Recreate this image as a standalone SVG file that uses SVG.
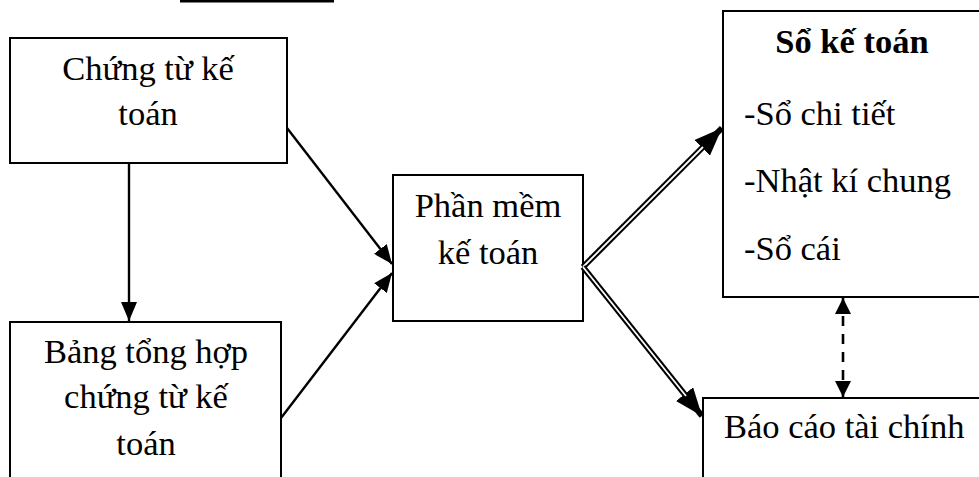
<svg xmlns="http://www.w3.org/2000/svg" width="979" height="477" viewBox="0 0 979 477">
<style>
.box{fill:#fff;stroke:#000;stroke-width:2}
.t{font-family:"Liberation Serif","Times New Roman",serif;font-size:34.5px;fill:#000}
.c{text-anchor:middle}
.b{font-weight:bold}
.ln{stroke:#000;stroke-width:2.4;fill:none}
.dbl{stroke:#000;stroke-width:6;fill:none}
.gap{stroke:#fff;stroke-width:1.8;fill:none}
.dash{stroke:#000;stroke-width:2.6;stroke-dasharray:10 8;fill:none}
</style>
<defs>
<marker id="a" markerUnits="userSpaceOnUse" markerWidth="19" markerHeight="16" refX="19" refY="8" orient="auto"><path d="M0,0 L19,8 L0,16 z" fill="#000"/></marker>
<marker id="big" markerUnits="userSpaceOnUse" markerWidth="28" markerHeight="22" refX="28" refY="11" orient="auto"><path d="M0,0 L28,11 L0,22 z" fill="#000"/></marker>
<marker id="d" markerUnits="userSpaceOnUse" markerWidth="16" markerHeight="16" refX="16" refY="8" orient="auto-start-reverse"><path d="M0,0 L16,8 L0,16 z" fill="#000"/></marker>
</defs>
<rect x="180" y="0" width="154" height="2.5" fill="#000"/>
<g id="n1"><rect class="box" x="10" y="38" width="277" height="125"/>
<text class="t c" x="148" y="80">Chứng từ kế</text><text class="t c" x="148" y="125">toán</text></g>
<g id="n2"><rect class="box" x="10" y="322" width="271" height="170"/>
<text class="t c" x="146" y="363">Bảng tổng hợp</text><text class="t c" x="146" y="408">chứng từ kế</text><text class="t c" x="146" y="455">toán</text></g>
<g id="n3"><rect class="box" x="393" y="175" width="190" height="146"/>
<text class="t c" x="488" y="217">Phần mềm</text><text class="t c" x="488" y="264">kế toán</text></g>
<g id="n4"><rect class="box" x="723" y="11" width="260" height="286"/>
<text class="t c b" x="852" y="53">Sổ kế toán</text>
<text class="t" x="744" y="125">-Sổ chi tiết</text>
<text class="t" x="744" y="192">-Nhật kí chung</text>
<text class="t" x="744" y="260">-Sổ cái</text></g>
<g id="n5"><rect class="box" x="703" y="398" width="290" height="100"/>
<text class="t" x="724" y="438">Báo cáo tài chính</text></g>
<g id="edges">
<line class="ln" x1="129" y1="163" x2="129" y2="321" marker-end="url(#a)"/>
<line class="ln" x1="287" y1="128" x2="392" y2="264" marker-end="url(#a)"/>
<line class="ln" x1="281" y1="418" x2="392" y2="273" marker-end="url(#a)"/>
<line class="dbl" x1="583" y1="267" x2="722" y2="128" marker-end="url(#big)"/>
<line class="gap" x1="583" y1="267" x2="703" y2="147"/>
<line class="dbl" x1="583" y1="267" x2="702" y2="416" marker-end="url(#big)"/>
<line class="gap" x1="583" y1="267" x2="686" y2="396"/>
<line class="dash" x1="843" y1="298" x2="843" y2="397" marker-start="url(#d)" marker-end="url(#d)"/>
</g>
</svg>
